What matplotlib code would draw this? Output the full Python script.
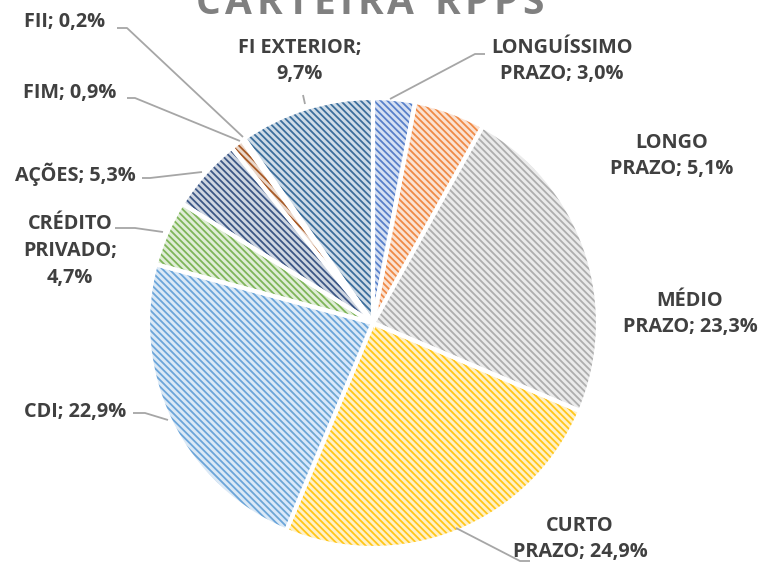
import matplotlib
matplotlib.use("Agg")
import matplotlib.pyplot as plt
import numpy as np

categories = ["LONGUÍSSIMO PRAZO", "LONGO PRAZO", "MÉDIO PRAZO", "CURTO PRAZO", "CDI",
              "CRÉDITO PRIVADO", "AÇÕES", "FIM", "FII", "FI EXTERIOR"]
values = [3.0, 5.1, 23.3, 24.9, 22.9, 4.7, 5.3, 0.9, 0.2, 9.7]
label_texts = ["LONGUÍSSIMO\nPRAZO; 3,0%", "LONGO\nPRAZO; 5,1%", "MÉDIO\nPRAZO; 23,3%",
               "CURTO\nPRAZO; 24,9%", "CDI; 22,9%", "CRÉDITO\nPRIVADO;\n4,7%",
               "AÇÕES; 5,3%", "FIM; 0,9%", "FII; 0,2%", "FI EXTERIOR;\n9,7%"]
dark_colors = ["#4472C4", "#ED7D31", "#A5A5A5", "#FFC000", "#5B9BD5",
               "#70AD47", "#264478", "#9E480E", "#636363", "#255E91"]
title = "CARTEIRA RPPS"

W, H = 764, 565
fig = plt.figure(figsize=(W / 100, H / 100), dpi=100)
ax = fig.add_axes([0, 0, 1, 1])

def Y(y):
    return H - y

def lighten(c, f):
    rgb = np.array(matplotlib.colors.to_rgb(c))
    return tuple(rgb + (1 - rgb) * f)

cx, cy, R = 373, Y(323), 225
plt.rcParams["hatch.linewidth"] = 1.3

light = [lighten(c, 0.78) for c in dark_colors]
wedges, _ = ax.pie(values, startangle=90, counterclock=False, center=(cx, cy), radius=R,
                   colors=light, wedgeprops=dict(linewidth=0), frame=True)
for w, c in zip(wedges, dark_colors):
    w.set_edgecolor(lighten(c, 0.1))
    w.set_hatch("\\\\\\\\\\")
    w.set_linewidth(0)
ax.pie(values, startangle=90, counterclock=False, center=(cx, cy), radius=R,
       colors=["none"] * len(values),
       wedgeprops=dict(linewidth=3, edgecolor="white"), frame=True)
ax.set_xlim(0, W)
ax.set_ylim(0, H)
ax.set_aspect("equal")
ax.axis("off")

FONT = "Open Sans"
fp = dict(fontfamily=FONT, fontweight="bold", fontsize=14.3, color="#404040",
          ha="center", va="center", linespacing=1.45)

label_pos = [(562, 61), (672, 156), (690, 314), (580, 539), (75, 412),
             (70, 251), (75, 174), (70, 93), (65, 22), (300, 61)]
for (x, y), t in zip(label_pos, label_texts):
    ax.text(x, Y(y), t, **fp)

lc = "#A6A6A6"
leaders = [
    [(390, 99), (475, 54), (485, 54)],
    [(456, 528), (520, 561), (530, 561)],
    [(168, 420), (145, 413), (133, 413)],
    [(163, 232), (135, 228), (115, 228)],
    [(202, 172), (150, 178), (142, 178)],
    [(240, 141), (135, 98), (127, 98)],
    [(243, 137), (127, 28), (117, 28)],
    [(305, 104), (303, 95)],
]
for pts in leaders:
    xs = [p[0] for p in pts]
    ys = [Y(p[1]) for p in pts]
    ax.plot(xs, ys, color=lc, lw=1.3, solid_capstyle="butt")

# Title with letter spacing
fig.canvas.draw()
renderer = fig.canvas.get_renderer()
tfp = dict(fontfamily=FONT, fontweight="bold", fontsize=28, color="#808080",
           ha="left", va="baseline")
spacing = 4.5
widths = []
for ch in title:
    t = ax.text(0, 0, ch if ch != " " else "n", **tfp)
    bb = t.get_window_extent(renderer)
    widths.append(bb.width if ch != " " else bb.width * 0.45)
    t.remove()
total = sum(widths) + spacing * (len(title) - 1)
x = 370 - total / 2
for ch, wdt in zip(title, widths):
    if ch != " ":
        ax.text(x, Y(14), ch, **tfp)
    x += wdt + spacing

fig.savefig("out.png", dpi=100)
